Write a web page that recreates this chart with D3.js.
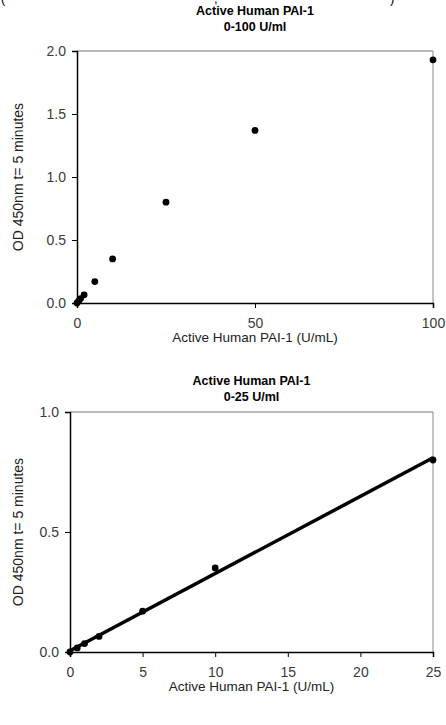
<!DOCTYPE html>
<html>
<head>
<meta charset="utf-8">
<script src="https://cdn.jsdelivr.net/npm/d3@7"></script>
<style>
  body { margin: 0; background: #fff; }
  svg { display: block; font-family: "Liberation Sans", Arial, sans-serif; }
  .tick text { fill: #3a3a3a; font-size: 14px; }
</style>
</head>
<body>
<div id="chart"></div>
<script>
// data
var conc100 = [0, 0.5, 1, 2, 5, 10, 25, 50, 100];
var od100 = [0, 0.017, 0.035, 0.065, 0.17, 0.35, 0.80, 1.37, 1.93];
var conc25 = [0, 0.5, 1, 2, 5, 10, 25];
var od25 = [0, 0.017, 0.035, 0.065, 0.17, 0.35, 0.80];
var xTicks100 = [0, 50, 100];
var yTicks100 = [0, 0.5, 1.0, 1.5, 2.0];
var xTicks25 = [0, 5, 10, 15, 20, 25];
var yTicks25 = [0, 0.5, 1.0];

var W = 446, H = 725;
var svg = d3.select("#chart").append("svg").attr("width", W).attr("height", H);

// clipped bits of the line above the charts
svg.append("text").attr("x", 1).attr("y", 3).style("font-size", "13px").text("(");
svg.append("text").attr("x", 214).attr("y", 3).style("font-size", "13px").text(",");
svg.append("text").attr("x", 390).attr("y", 3).style("font-size", "13px").text(")");

function drawChart(opt) {
    var x = d3.scaleLinear().domain(opt.xDomain).range([opt.left, opt.right]);
    var y = d3.scaleLinear().domain(opt.yDomain).range([opt.bottom, opt.top]);
    var g = svg.append("g");

    // frame: top and right in grey
    g.append("line").attr("x1", opt.left).attr("x2", opt.right)
        .attr("y1", opt.top).attr("y2", opt.top).attr("stroke", "#777");
    g.append("line").attr("x1", opt.right).attr("x2", opt.right)
        .attr("y1", opt.top).attr("y2", opt.bottom).attr("stroke", "#888");

    var xa = g.append("g").attr("transform", "translate(0," + opt.bottom + ")")
        .call(d3.axisBottom(x).tickValues(opt.xTicks).tickSize(5).tickPadding(10).tickFormat(d3.format("d")));
    var ya = g.append("g").attr("transform", "translate(" + opt.left + ",0)")
        .call(d3.axisLeft(y).tickValues(opt.yTicks).tickSize(5).tickPadding(6).tickFormat(d3.format(".1f")));
    [xa, ya].forEach(function(a) {
        a.select(".domain").attr("stroke", "#000").attr("stroke-width", 1.5);
        a.selectAll(".tick line").attr("stroke", "#000");
    });

    if (opt.fit) {
        var xs = opt.xs, ys = opt.ys;
        var mx = d3.mean(xs), my = d3.mean(ys);
        var sxy = d3.sum(xs, function(v, i) { return (v - mx) * (ys[i] - my); });
        var sxx = d3.sum(xs, function(v) { return (v - mx) * (v - mx); });
        var b = sxy / sxx, a0 = my - b * mx;
        var x0 = d3.min(xs), x1 = d3.max(xs);
        g.append("line")
            .attr("x1", x(x0)).attr("y1", y(a0 + b * x0))
            .attr("x2", x(x1)).attr("y2", y(a0 + b * x1))
            .attr("stroke", "#000").attr("stroke-width", 3.5);
    }

    g.selectAll("circle").data(opt.xs).enter().append("circle")
        .attr("cx", function(d) { return x(d); })
        .attr("cy", function(d, i) { return y(opt.ys[i]); })
        .attr("r", 3.4).attr("fill", "#000");

    var cx = (opt.left + opt.right) / 2;
    var t = g.append("text").attr("text-anchor", "middle")
        .style("font-size", "12.5px").style("font-weight", "bold");
    t.append("tspan").attr("x", cx).attr("y", opt.titleY).text(opt.title[0]);
    t.append("tspan").attr("x", cx).attr("y", opt.titleY + 16).text(opt.title[1]);

    g.append("text").attr("text-anchor", "middle")
        .attr("x", cx).attr("y", opt.bottom + 39)
        .style("font-size", "13.5px").style("fill", "#222")
        .text("Active Human PAI-1 (U/mL)");

    g.append("text").attr("text-anchor", "middle")
        .attr("transform", "translate(23," + ((opt.top + opt.bottom) / 2) + ") rotate(-90)")
        .style("font-size", "14px").style("fill", "#222")
        .text("OD 450nm t= 5 minutes");
}

drawChart({
    xs: conc100, ys: od100, xDomain: [0, 100], yDomain: [0, 2],
    xTicks: xTicks100, yTicks: yTicks100,
    left: 77, right: 433, top: 51, bottom: 303,
    title: ["Active Human PAI-1", "0-100 U/ml"], titleY: 15, fit: false
});

drawChart({
    xs: conc25, ys: od25, xDomain: [0, 25], yDomain: [0, 1],
    xTicks: xTicks25, yTicks: yTicks25,
    left: 70, right: 433, top: 412, bottom: 652,
    title: ["Active Human PAI-1", "0-25 U/ml"], titleY: 385, fit: true
});
</script>
</body>
</html>
